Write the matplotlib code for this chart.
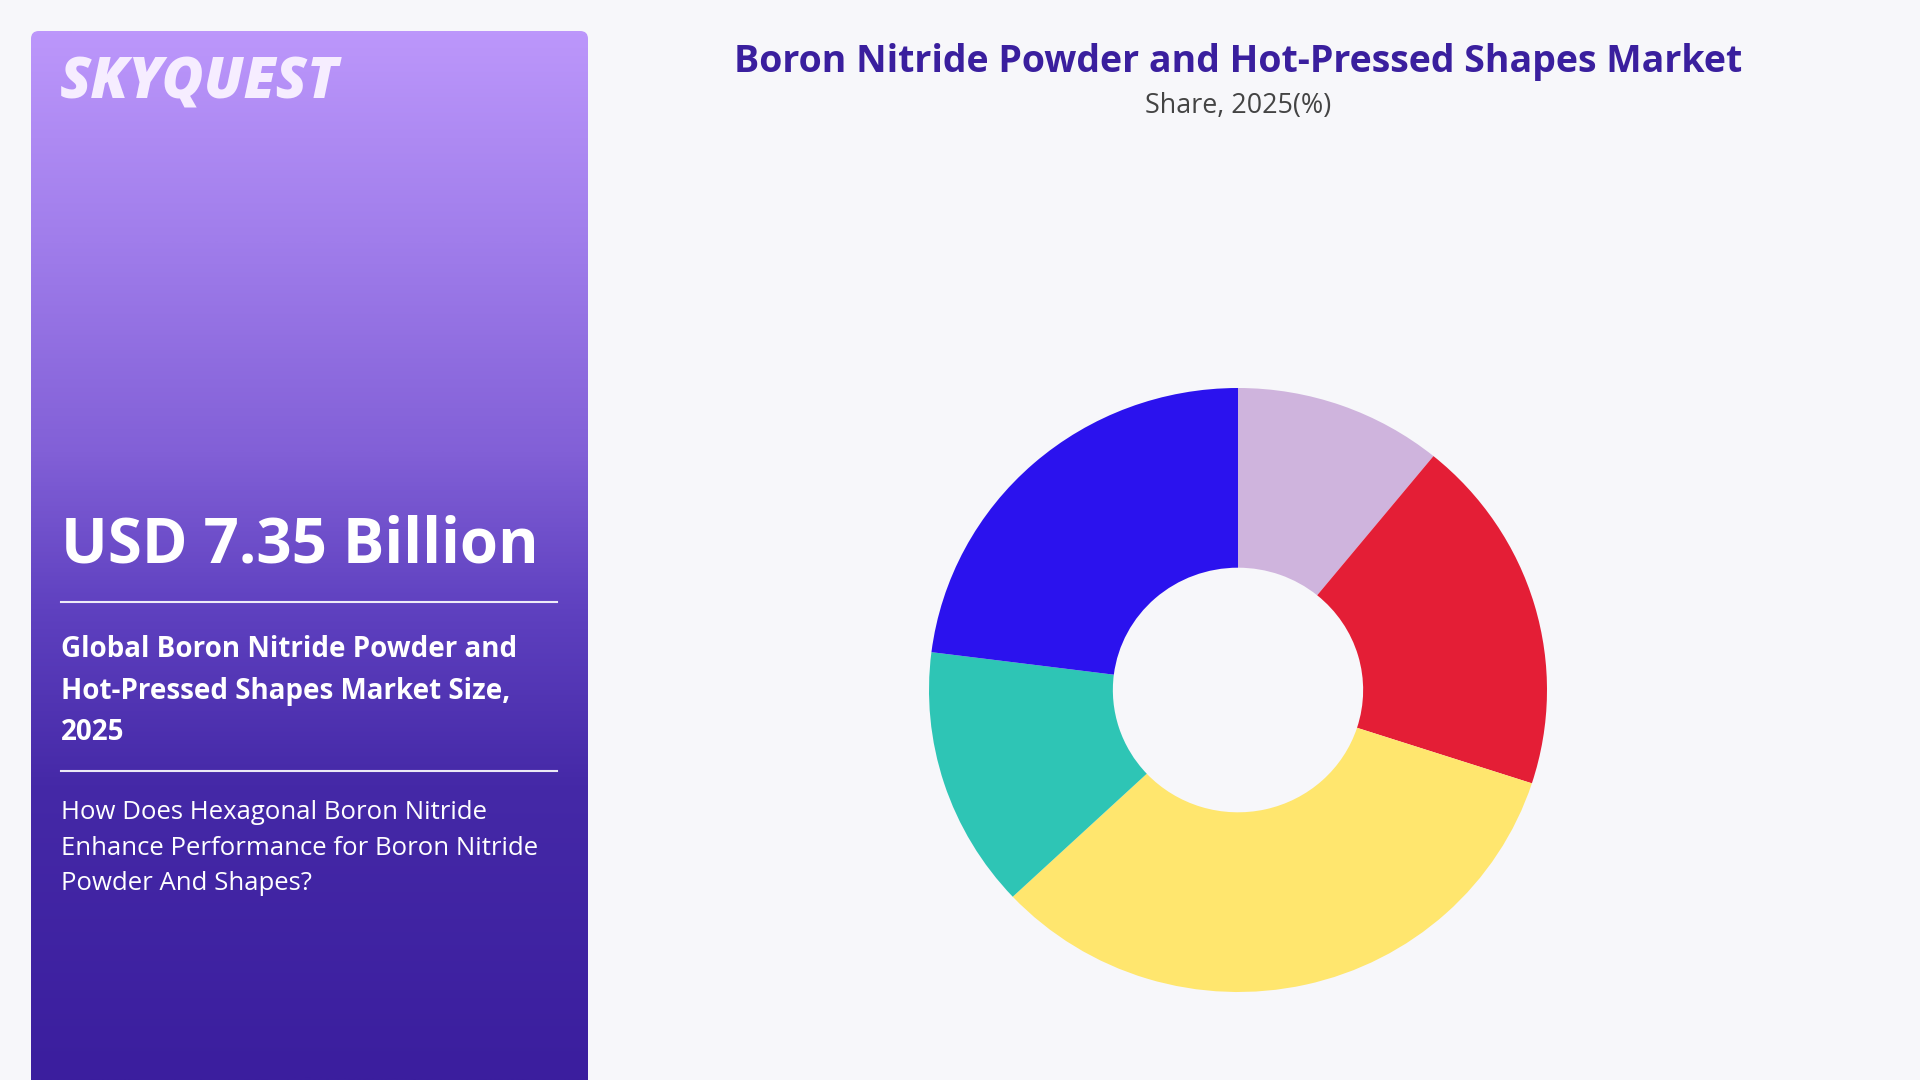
"""Boron nitride powder market share donut, SkyQuest style."""
import matplotlib.pyplot as plt
import numpy as np
from matplotlib.colors import LinearSegmentedColormap
from matplotlib.patches import FancyBboxPatch

# Data
segments = ['Segment 1', 'Segment 2', 'Segment 3', 'Segment 4', 'Segment 5']
shares = [10.9, 19.1, 33.0, 14.0, 23.0]
colors = ['#CFB4DD', '#E41E36', '#FFE66E', '#2EC5B5', '#2B12EE']

title = 'Boron Nitride Powder and Hot-Pressed Shapes Market'
subtitle = 'Share, 2025(%)'
market_size = 'USD 7.35 Billion'
size_caption = ('Global Boron Nitride Powder and\n'
                'Hot-Pressed Shapes Market Size,\n2025')
question = ('How Does Hexagonal Boron Nitride\n'
            'Enhance Performance for Boron Nitride\n'
            'Powder And Shapes?')

W, H = 1920, 1080
BG = '#F7F7FA'
FONT = 'Open Sans'

fig = plt.figure(figsize=(W / 100, H / 100), dpi=100, facecolor=BG)

# Left panel with vertical gradient (pixel coords -> figure coords)
px0, px1, py0 = 31, 588, 31
panel = fig.add_axes([px0 / W, 0, (px1 - px0) / W, 1 - py0 / H])
panel.set_axis_off()
grad_cmap = LinearSegmentedColormap.from_list('panel', [
    (0.00, '#BC97FB'), (0.20, '#A07DEB'), (0.40, '#8260D7'),
    (0.55, '#5F41C0'), (0.72, '#4529A7'), (1.00, '#3B1E9E')])
grad = np.linspace(0, 1, 512).reshape(-1, 1)
img = panel.imshow(grad, cmap=grad_cmap, aspect='auto',
                   extent=[0, 1, 0, 1], origin='upper')
clip = FancyBboxPatch((0, -0.1), 1, 1.1, boxstyle='round,pad=0,rounding_size=0.014',
                      transform=panel.transAxes, facecolor='none',
                      edgecolor='none', mutation_aspect=(px1 - px0) / (H - py0))
panel.add_patch(clip)
img.set_clip_path(clip)
panel.set_xlim(0, 1)
panel.set_ylim(0, 1)


def fx(x):
    return x / W


def fy(y):
    return 1 - y / H


# Logo
fig.text(fx(60), fy(84), 'SKYQUEST', fontsize=41, fontweight='heavy',
         style='italic', color='#F6EDFF', family=FONT, va='center')

# Left panel texts
fig.text(fx(61), fy(546), market_size, fontsize=44.5, fontweight='bold',
         color='white', family=FONT, va='center')
fig.add_artist(plt.Line2D([fx(61), fx(557)], [fy(602), fy(602)],
                          color='white', lw=1.5, alpha=0.9))
fig.text(fx(61), fy(635), size_caption, fontsize=20, fontweight='bold',
         color='white', family=FONT, va='top', linespacing=1.57)
fig.add_artist(plt.Line2D([fx(61), fx(557)], [fy(771), fy(771)],
                          color='white', lw=1.5, alpha=0.9))
fig.text(fx(61), fy(800), question, fontsize=18.5, color='white',
         family=FONT, va='top', linespacing=1.555)

# Chart title
fig.text(fx(1238), fy(62), title, fontsize=27, fontweight='bold',
         color='#3A1F9E', family=FONT, ha='center', va='center')
fig.text(fx(1238), fy(106), subtitle, fontsize=19.4, color='#444444',
         family=FONT, ha='center', va='center')

# Donut (source image is slightly stretched horizontally)
cx, cy, rx, ry = 1238, 690, 309, 302
ax = fig.add_axes([(cx - rx) / W, (H - cy - ry) / H, 2 * rx / W, 2 * ry / H])
ax.pie(shares, colors=colors, startangle=90, counterclock=False,
       radius=1, wedgeprops=dict(width=0.595, linewidth=0))
ax.set_aspect('auto')
ax.set_xlim(-1, 1)
ax.set_ylim(-1, 1)
ax.set_axis_off()

fig.savefig('out.png', dpi=100, facecolor=BG)
